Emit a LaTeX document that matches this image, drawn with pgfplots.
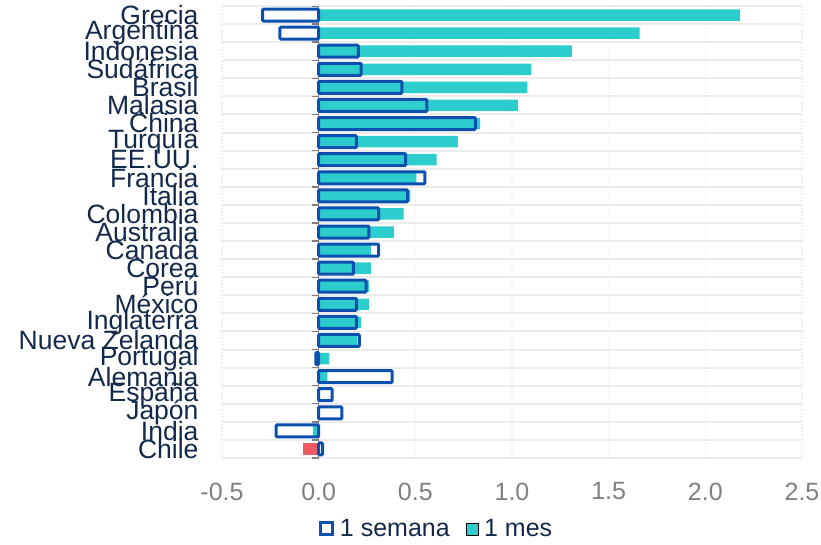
\documentclass[border=0pt]{standalone}
\usepackage{fontspec}
\setmainfont{Liberation Sans}
\usepackage{pgfplots}
\usepackage{pgfplotstable}
\pgfplotsset{compat=1.18}

\definecolor{navy}{HTML}{13294B}
\definecolor{tealbar}{HTML}{2ECDCD}
\definecolor{bluebar}{HTML}{0B4FAF}
\definecolor{redbar}{HTML}{EF5A62}
\definecolor{tickgray}{HTML}{808080}
\definecolor{gridgray}{HTML}{ECECEC}

% idx: row (0 = top); mes: 1-month change; semana: 1-week change
\pgfplotstableread{
idx mes semana
0 2.18 -0.29
1 1.66 -0.20
2 1.31 0.205
3 1.10 0.22
4 1.08 0.43
5 1.03 0.56
6 0.835 0.81
7 0.72 0.195
8 0.61 0.45
9 0.505 0.55
10 0.474 0.46
11 0.44 0.31
12 0.39 0.26
13 0.27 0.31
14 0.27 0.18
15 0.26 0.245
16 0.26 0.195
17 0.22 0.195
18 0.20 0.21
19 0.055 -0.015
20 0.045 0.38
21 0.0 0.07
22 0.0 0.12
23 -0.03 -0.22
24 nan 0.02
}\datatable

\begin{document}
\begin{tikzpicture}
\begin{axis}[
  name=ax,
  scale only axis,
  width=580pt, height=452pt,
  xbar,
  xmin=-0.5, xmax=2.5,
  ymin=-0.5, ymax=24.5,
  y dir=reverse,
  xtick={-0.5,0,0.5,1,1.5,2,2.5},
  /pgf/number format/fixed,
  /pgf/number format/fixed zerofill,
  /pgf/number format/precision=1,
  /pgf/number format/assume math mode=true,
  ytick={0,...,24},
  yticklabels={Grecia,Argentina,Indonesia,Sudáfrica,Brasil,Malasia,China,Turquía,EE.UU.,Francia,Italia,Colombia,Australia,Canadá,Corea,Perú,México,Inglaterra,Nueva Zelanda,Portugal,Alemania,España,Japón,India,Chile},
  minor ytick={-0.5,0.5,...,24.5},
  yminorgrids, xmajorgrids,
  minor grid style={gridgray, line width=2pt},
  major grid style={gridgray, line width=1.6pt, dotted},
  axis line style={draw=none},
  tick style={draw=none},
  major tick length=0pt, minor tick length=0pt,
  xticklabel style={font=\fontsize{25}{25}\selectfont, text=tickgray, yshift=-21pt},
  yticklabel style={font=\fontsize{26.5}{22}\selectfont, text=navy, xshift=-20pt},
  legend style={draw=none, fill=none, at={(0.37,-0.157)}, anchor=center,
    legend columns=2, font=\fontsize{25}{25}\selectfont, text=navy,
    /tikz/every odd column/.append style={column sep=4pt},
    /tikz/every even column/.append style={column sep=14pt}},
  legend image code/.code={\draw[#1] (0pt,-6pt) rectangle (12pt,6pt);},
]
\addlegendimage{draw=bluebar, line width=3pt, fill=white}
\addlegendentry{1 semana}

% 1-month change, filled
\addplot[fill=tealbar, draw=none, bar width=11.5pt, bar shift=0pt]
  table[x=mes, y=idx] {\datatable};
\addlegendentry{1 mes}

% Chile highlighted
\addplot[fill=redbar, draw=none, bar width=11.5pt, bar shift=0pt, forget plot]
  coordinates {(-0.08,24)};

% zero line with row ticks
\draw[tickgray, line width=1.4pt] (axis cs:0,-0.5) -- (axis cs:0,24.5);
\pgfplotsinvokeforeach{-0.5,0.5,...,24.5}{
  \draw[tickgray, line width=1.4pt] ([xshift=-7pt]axis cs:0,#1) -- (axis cs:0,#1);
}

% 1-week change, outlined
\addplot[draw=bluebar, line width=3pt, fill=none, rounded corners=1pt,
  bar width=12pt, bar shift=0pt, forget plot]
  table[x=semana, y=idx] {\datatable};
\end{axis}
\pgfresetboundingbox
\path[use as bounding box] ([xshift=-222pt,yshift=-86pt]ax.south west) rectangle ([xshift=19pt,yshift=6pt]ax.north east);
\end{tikzpicture}
\end{document}
